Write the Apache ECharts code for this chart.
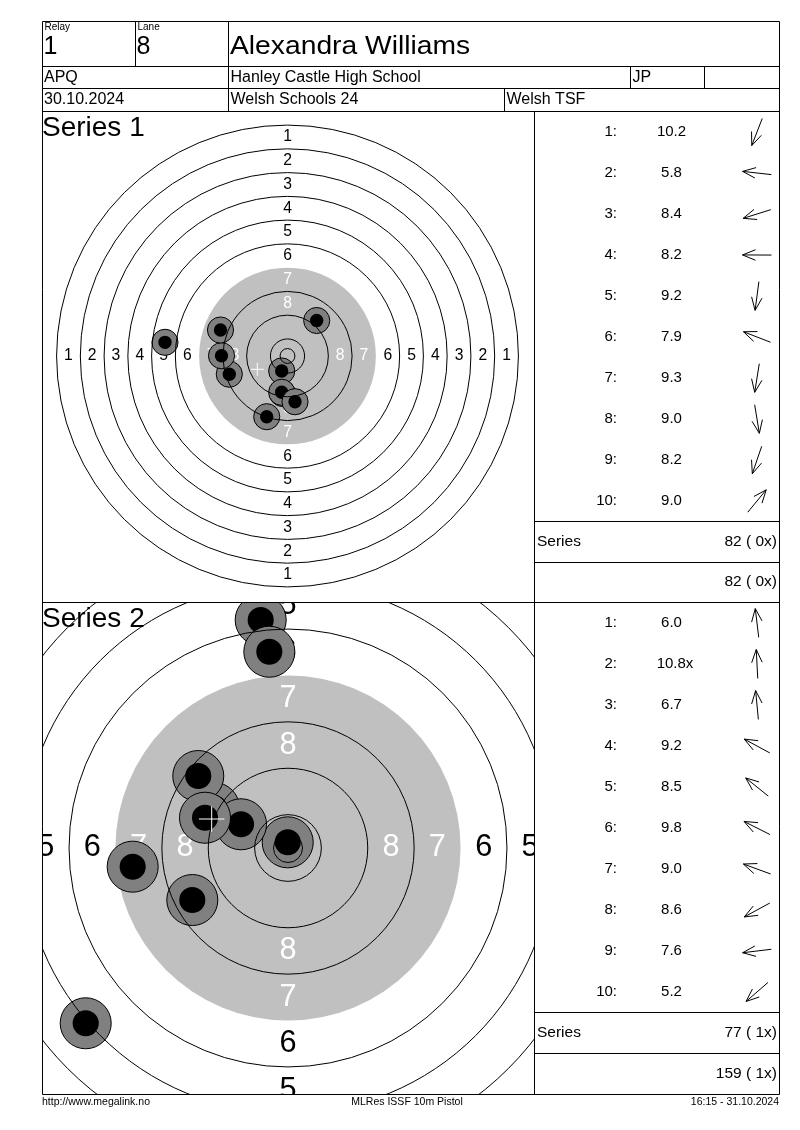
<!DOCTYPE html>
<html>
<head>
<meta charset="utf-8">
<script src="https://cdn.jsdelivr.net/npm/echarts@6/dist/echarts.min.js"></script>
<style>
html,body{margin:0;padding:0;background:#fff;}
#c{width:800px;height:1130px;}
</style>
</head>
<body>
<div id="c"></div>
<script>
// ---------------- DATA ----------------
const relayNo = '1';
const laneNo = '8';
const shooterName = 'Alexandra Williams';
const classCode = 'APQ';
const clubName = 'Hanley Castle High School';
const nationCode = 'JP';
const eventDate = '30.10.2024';
const competitionName = 'Welsh Schools 24';
const organiserName = 'Welsh TSF';
const footerLeft = 'http://www.megalink.no';
const footerCenter = 'MLRes ISSF 10m Pistol';
const footerRight = '16:15 - 31.10.2024';
const seriesNames = ['Series 1', 'Series 2'];

// ISSF 10m pistol target (mm radii), ring 1 .. ring 10
const ringNumbers = [1, 2, 3, 4, 5, 6, 7, 8, 9, 10];
const ringRadiusMm = [77.75, 69.75, 61.75, 53.75, 45.75, 37.75, 29.75, 21.75, 13.75, 5.75];
const innerTenRadiusMm = 2.5;
const labelledRings = [1, 2, 3, 4, 5, 6, 7, 8];

const shotLabels = ['1:', '2:', '3:', '4:', '5:', '6:', '7:', '8:', '9:', '10:'];

// Series 1 shots (mm from centre, x right, y up)
const s1ShotX = [-1.95, -41.25, -19.60, -22.22, -1.68, -22.56, -1.95, 2.53, -7.00, 9.83];
const s1ShotY = [-5.05, 4.61, -6.13, 0.10, -12.63, 8.75, -12.22, -15.39, -20.44, 11.95];
const s1Scores = ['10.2', '5.8', '8.4', '8.2', '9.2', '7.9', '9.3', '9.0', '8.2', '9.0'];
const s1GroupCentre = [-10.17, -4.48];

// Series 2 shots
const s2ShotX = [-4.71, -0.05, -3.22, -12.76, -15.47, -8.10, -14.31, -16.50, -26.78, -34.88];
const s2ShotY = [39.31, 0.98, 33.84, 6.90, 12.41, 4.09, 5.22, -8.97, -3.22, -30.22];
const s2Scores = ['6.0', '10.8x', '6.7', '9.2', '8.5', '9.8', '9.0', '8.6', '7.6', '5.2'];
const s2GroupCentre = [-13.16, 5.0];

const seriesTotals = ['82 ( 0x)', '77 ( 1x)'];
const runningTotals = ['82 ( 0x)', '159 ( 1x)'];

// ---------------- LAYOUT ----------------
const FONT = '"Liberation Sans", Arial, Helvetica, sans-serif';
const targets = [
  { xs: s1ShotX, ys: s1ShotY, scores: s1Scores, mpi: s1GroupCentre, cx: 287.5, cy: 356, scale: 2.97, left: 43, top: 112, w: 491, h: 490 },
  { xs: s2ShotX, ys: s2ShotY, scores: s2Scores, mpi: s2GroupCentre, cx: 288, cy: 848, scale: 5.8, left: 43, top: 603, w: 491, h: 491 }
];
const lists = [
  { left: 535, top: 111.5, w: 244, h: 410 },
  { left: 535, top: 602.5, w: 244, h: 410 }
];

const chart = echarts.init(document.getElementById('c'), null, { renderer: 'canvas', width: 800, height: 1130 });

const grids = [];
const xAxes = [];
const yAxes = [];
targets.forEach(t => {
  const gi = grids.length;
  grids.push({ left: t.left, top: t.top, width: t.w, height: t.h, containLabel: false });
  xAxes.push({ type: 'value', gridIndex: gi, show: false, min: (t.left - t.cx) / t.scale, max: (t.left + t.w - t.cx) / t.scale });
  yAxes.push({ type: 'value', gridIndex: gi, show: false, min: (t.cy - (t.top + t.h)) / t.scale, max: (t.cy - t.top) / t.scale });
});
lists.forEach(l => {
  const gi = grids.length;
  grids.push({ left: l.left, top: l.top, width: l.w, height: l.h, containLabel: false });
  xAxes.push({ type: 'value', gridIndex: gi, show: false, min: 0, max: l.w });
  yAxes.push({ type: 'category', gridIndex: gi, show: false, inverse: true, data: shotLabels });
});

function txt(x, y, text, size, align, color, vAlign) {
  return {
    type: 'text', x: x, y: y,
    style: {
      text: text, fill: color || '#000', font: size + 'px ' + FONT,
      align: align || 'left', textAlign: align || 'left',
      verticalAlign: vAlign || 'middle', textVerticalAlign: vAlign || 'middle'
    }
  };
}

const series = [];
targets.forEach((t, k) => {
  // black (grey) aiming area
  series.push({
    type: 'custom', coordinateSystem: 'cartesian2d', xAxisIndex: k, yAxisIndex: k, clip: true, z: 1, silent: true, animation: false,
    data: [[0, 0, ringRadiusMm[6]]],
    renderItem: (p, api) => {
      const c = api.coord([0, 0]);
      const r = api.size([api.value(2), 0])[0];
      return { type: 'circle', shape: { cx: c[0], cy: c[1], r: r }, style: { fill: '#c0c0c0', stroke: null } };
    }
  });
  // ring numbers
  series.push({
    type: 'custom', coordinateSystem: 'cartesian2d', xAxisIndex: k, yAxisIndex: k, clip: true, z: 2, silent: true, animation: false,
    data: labelledRings.map(n => [0, 0, (ringRadiusMm[n - 1] + ringRadiusMm[n]) / 2, n]),
    renderItem: (p, api) => {
      const c = api.coord([0, 0]);
      const m = api.size([api.value(2), 0])[0];
      const n = api.value(3);
      const fs = api.size([5.3, 0])[0];
      const col = n >= 7 ? '#ffffff' : '#000000';
      const pos = [[c[0], c[1] - m], [c[0], c[1] + m], [c[0] - m, c[1]], [c[0] + m, c[1]]];
      return {
        type: 'group',
        children: pos.map(q => txt(q[0], q[1], String(n), fs.toFixed(1), 'center', col))
      };
    }
  });
  // shots
  series.push({
    type: 'custom', coordinateSystem: 'cartesian2d', xAxisIndex: k, yAxisIndex: k, clip: true, z: 3, silent: true, animation: false,
    data: t.xs.map((x, i) => [x, t.ys[i], i + 1]),
    renderItem: (p, api) => {
      const c = api.coord([api.value(0), api.value(1)]);
      const ro = api.size([4.4, 0])[0];
      const ri = api.size([2.25, 0])[0];
      return {
        type: 'group',
        children: [
          { type: 'circle', shape: { cx: c[0], cy: c[1], r: ro }, style: { fill: '#808080', stroke: '#000', lineWidth: 1 } },
          { type: 'circle', shape: { cx: c[0], cy: c[1], r: ri }, style: { fill: '#000', stroke: null } }
        ]
      };
    }
  });
  // ring lines
  const lineRadii = ringRadiusMm.filter((r, i) => ringNumbers[i] !== 7).concat([innerTenRadiusMm]);
  series.push({
    type: 'custom', coordinateSystem: 'cartesian2d', xAxisIndex: k, yAxisIndex: k, clip: true, z: 4, silent: true, animation: false,
    data: lineRadii.map(r => [0, 0, r]),
    renderItem: (p, api) => {
      const c = api.coord([0, 0]);
      const r = api.size([api.value(2), 0])[0];
      return { type: 'circle', shape: { cx: c[0], cy: c[1], r: r }, style: { fill: 'none', stroke: '#000', lineWidth: 1 } };
    }
  });
  // group centre cross
  series.push({
    type: 'custom', coordinateSystem: 'cartesian2d', xAxisIndex: k, yAxisIndex: k, clip: true, z: 5, silent: true, animation: false,
    data: [t.mpi],
    renderItem: (p, api) => {
      const c = api.coord([api.value(0), api.value(1)]);
      const h = api.size([2.2, 0])[0];
      return {
        type: 'group',
        children: [
          { type: 'line', shape: { x1: c[0] - h, y1: c[1], x2: c[0] + h, y2: c[1] }, style: { stroke: '#fff', lineWidth: 1 } },
          { type: 'line', shape: { x1: c[0], y1: c[1] - h, x2: c[0], y2: c[1] + h }, style: { stroke: '#fff', lineWidth: 1 } }
        ]
      };
    }
  });
});

// shot lists
targets.forEach((t, k) => {
  series.push({
    type: 'custom', coordinateSystem: 'cartesian2d', xAxisIndex: k + 2, yAxisIndex: k + 2, z: 6, silent: true, animation: false,
    data: shotLabels.map((s, i) => [0, i]),
    renderItem: (p, api) => {
      const i = p.dataIndex;
      const idx = api.value(1);
      const pl = api.coord([82, idx]);
      const ps = api.coord([136.5, idx]);
      const pa = api.coord([222, idx]);
      const sc = t.scores[i];
      const sx = ps[0] + (sc.endsWith('x') ? 3.5 : 0);
      const ang = Math.atan2(t.ys[i], t.xs[i]);
      const dx = Math.cos(ang), dy = -Math.sin(ang);
      const L = 14.5, W = 14, a = 22 * Math.PI / 180;
      const tail = [pa[0] - dx * L, pa[1] - dy * L];
      const head = [pa[0] + dx * L, pa[1] + dy * L];
      const back = Math.atan2(-dy, -dx);
      const w1 = [head[0] + W * Math.cos(back + a), head[1] + W * Math.sin(back + a)];
      const w2 = [head[0] + W * Math.cos(back - a), head[1] + W * Math.sin(back - a)];
      return {
        type: 'group',
        children: [
          txt(pl[0], pl[1], shotLabels[i], 15, 'right'),
          txt(sx, ps[1], sc, 15, 'center'),
          { type: 'polyline', shape: { points: [tail, head] }, style: { stroke: '#000', lineWidth: 1, fill: null } },
          { type: 'polyline', shape: { points: [w1, head, w2] }, style: { stroke: '#000', lineWidth: 1, fill: null } }
        ]
      };
    }
  });
});

// ---------------- FRAME / TEXTS ----------------
const ln = (x1, y1, x2, y2) => ({ type: 'line', shape: { x1, y1, x2, y2 }, style: { stroke: '#000', lineWidth: 1 }, z: 20 });
const nameText = txt(230, 47, shooterName, 25);
nameText.scaleX = 1.13;
const graphics = [
  ln(42.5, 21.5, 779.5, 21.5),
  ln(42.5, 66.5, 779.5, 66.5),
  ln(42.5, 88.5, 779.5, 88.5),
  ln(42.5, 111.5, 779.5, 111.5),
  ln(42.5, 602.5, 779.5, 602.5),
  ln(42.5, 1094.5, 779.5, 1094.5),
  ln(42.5, 21.5, 42.5, 1094.5),
  ln(779.5, 21.5, 779.5, 1094.5),
  ln(135.5, 21.5, 135.5, 66.5),
  ln(228.5, 21.5, 228.5, 111.5),
  ln(630.5, 66.5, 630.5, 88.5),
  ln(704.5, 66.5, 704.5, 88.5),
  ln(504.5, 88.5, 504.5, 111.5),
  ln(534.5, 111.5, 534.5, 1094.5),
  ln(534.5, 521.5, 779.5, 521.5),
  ln(534.5, 562.5, 779.5, 562.5),
  ln(534.5, 1012.5, 779.5, 1012.5),
  ln(534.5, 1053.5, 779.5, 1053.5),
  txt(44.5, 27.5, 'Relay', 10),
  txt(137.5, 27.5, 'Lane', 10),
  txt(43.5, 47, relayNo, 25),
  txt(136.5, 47, laneNo, 25),
  nameText,
  txt(44, 77.5, classCode, 16),
  txt(230.5, 77.5, clubName, 16),
  txt(632.5, 77.5, nationCode, 16),
  txt(44, 100, eventDate, 16),
  txt(230.5, 100, competitionName, 16),
  txt(506.5, 100, organiserName, 16),
  txt(42, 128, seriesNames[0], 28),
  txt(42, 619.5, seriesNames[1], 28),
  txt(537, 541.5, 'Series', 15.5),
  txt(777, 541.5, seriesTotals[0], 15.5, 'right'),
  txt(777, 582, runningTotals[0], 15.5, 'right'),
  txt(537, 1033, 'Series', 15.5),
  txt(777, 1033, seriesTotals[1], 15.5, 'right'),
  txt(777, 1074, runningTotals[1], 15.5, 'right'),
  txt(42, 1102.5, footerLeft, 10.5),
  txt(407, 1102.5, footerCenter, 10.5, 'center'),
  txt(779, 1102.5, footerRight, 10.5, 'right')
].map(g => Object.assign({ z: 20, silent: true }, g));

chart.setOption({
  backgroundColor: '#ffffff',
  animation: false,
  grid: grids,
  xAxis: xAxes,
  yAxis: yAxes,
  series: series,
  graphic: { elements: graphics }
});
</script>
</body>
</html>
